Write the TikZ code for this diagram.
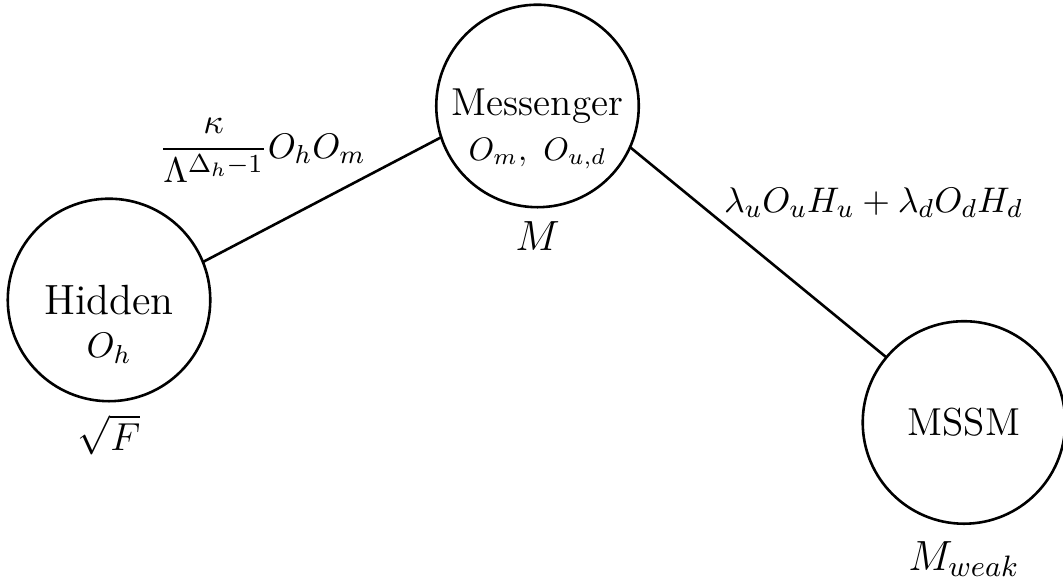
\RequirePackage{fix-cm}
\documentclass[11pt,tikz,border=0pt]{standalone}
\begin{document}
\begin{tikzpicture}[inner sep=0pt,outer sep=0pt,thick,
	sector/.style={draw,circle,minimum size=2.19cm,thick}]
	\useasboundingbox (0,0) rectangle (11.496,-6.251);
	\draw (1.179,-3.244) node[sector] (hid) {\fontsize{13}{15}\selectfont Hidden};
	\draw (5.813,-1.146) node[sector] (mess) {\large Messenger};
	\draw (10.425,-4.569) node[sector] (mssm) {\large MSSM};
	\draw (hid.base) ++(0,-13.2pt) node[anchor=base] (ohid) {$O_h$};
	\draw (mess.base) ++(0,-13.8pt) node[anchor=base] (omess) {\small $O_m,\ O_{u,d}$};
	\draw (hid.south) node[below=4.2pt] (sqf) {\large $\sqrt{F}$};
	\draw (mess.south) node[below=4.5pt] (mm) {\fontsize{13}{15}\selectfont $M$};
	\draw (mssm.south) node[below=5.5pt] (mw) {\fontsize{13}{15}\selectfont $M_{weak}$};
	\draw (hid.22) -- (mess.198);
	\draw (mess.336) -- (mssm.140);
	\draw (2.84,-1.709) node[anchor=base] (lhm) {$\displaystyle\frac{\kappa}{\Lambda^{\Delta_h-1}}O_hO_m$};
	\draw (9.446,-2.293) node[anchor=base] (lmw) {$\lambda_uO_uH_u+\lambda_dO_dH_d$};
\end{tikzpicture}
\end{document}
